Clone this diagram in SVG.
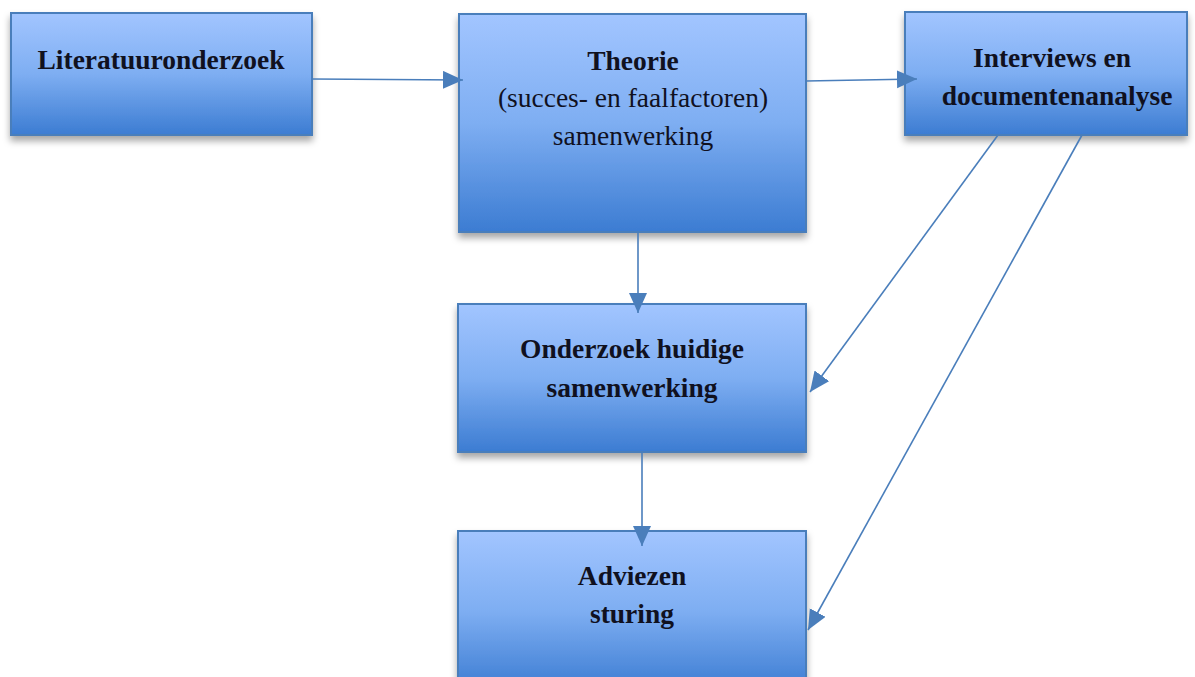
<svg xmlns="http://www.w3.org/2000/svg" width="1195" height="677" viewBox="0 0 1195 677">
<defs>
<linearGradient id="g" x1="0" y1="0" x2="0" y2="1">
<stop offset="0" stop-color="#a2c5ff"/>
<stop offset="0.5" stop-color="#7eaef2"/>
<stop offset="1" stop-color="#3c7cd2"/>
</linearGradient>
<filter id="sh" x="-10%" y="-10%" width="120%" height="130%">
<feDropShadow dx="0" dy="5" stdDeviation="3.5" flood-color="#000" flood-opacity="0.35"/>
</filter>
<marker id="ah" markerUnits="userSpaceOnUse" markerWidth="22" markerHeight="20" refX="20" refY="9" orient="auto">
<path d="M0,0 L20,9 L0,18 Z" fill="#4a7ebb"/>
</marker>
<style>
.box{fill:url(#g);stroke:#4a7ebb;stroke-width:2;filter:url(#sh)}
.t{font-family:"Liberation Serif","Times New Roman",serif;font-size:27.5px;fill:#10111f;text-anchor:middle}
.b{font-weight:bold}
.c{fill:none;stroke:#4a7ebb;stroke-width:1.6;marker-end:url(#ah)}
</style>
</defs>
<rect width="1195" height="677" fill="#fff"/>
<g id="literatuuronderzoek">
<rect class="box" x="11" y="13" width="301" height="122"/>
<text class="t b" x="161" y="69">Literatuuronderzoek</text>
</g>
<g id="theorie">
<rect class="box" x="459" y="14" width="347" height="218"/>
<text class="t b" x="633" y="70">Theorie</text>
<text class="t" x="633" y="107">(succes- en faalfactoren)</text>
<text class="t" x="633" y="145">samenwerking</text>
</g>
<g id="interviews">
<rect class="box" x="905" y="12" width="282" height="123"/>
<text class="t b" x="1052" y="67">Interviews en</text>
<text class="t b" x="1057" y="105">documentenanalyse</text>
</g>
<g id="onderzoek">
<rect class="box" x="458" y="304" width="348" height="148"/>
<text class="t b" x="632" y="358">Onderzoek huidige</text>
<text class="t b" x="632" y="397">samenwerking</text>
</g>
<g id="adviezen">
<rect class="box" x="458" y="531" width="348" height="160"/>
<text class="t b" x="632" y="585">Adviezen</text>
<text class="t b" x="632" y="623">sturing</text>
</g>
<g id="connectors">
<line class="c" x1="312" y1="79" x2="463" y2="80"/>
<line class="c" x1="806" y1="81" x2="917" y2="79"/>
<line class="c" x1="638" y1="232" x2="638" y2="313"/>
<line class="c" x1="642" y1="452" x2="642" y2="546"/>
<line class="c" x1="998" y1="135" x2="810" y2="392"/>
<line class="c" x1="1082" y1="135" x2="808" y2="630"/>
</g>
</svg>
